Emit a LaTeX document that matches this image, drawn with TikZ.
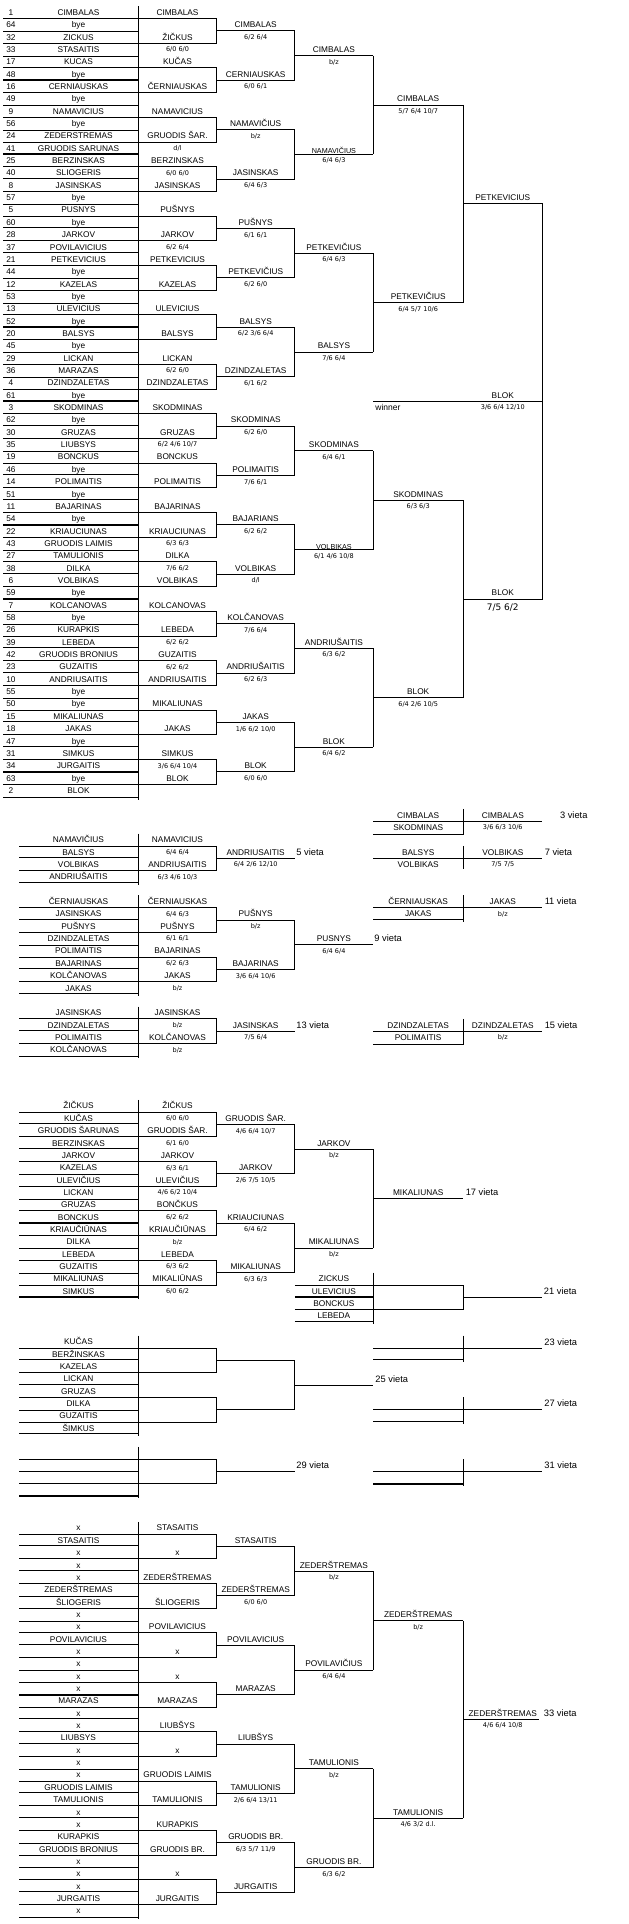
\documentclass[tikz,border=0pt]{standalone}
\usepackage{fontspec}
\setmainfont{Liberation Sans}
\newfontfamily\scorefont{DejaVu Sans}
\usetikzlibrary{positioning}

% column borders and column centres
\newcommand\Xz{3.2}
\newcommand\Xl{19.3}
\newcommand\Xa{138.4}
\newcommand\Xb{216.6}
\newcommand\Xc{294.8}
\newcommand\Xd{373}
\newcommand\Xe{463.3}
\newcommand\Xf{542.3}
\newcommand\Ma{78.5}
\newcommand\Mb{177.5}
\newcommand\Mc{255.7}
\newcommand\Md{333.9}
\newcommand\Me{418.2}
\newcommand\Mf{502.8}

\begin{document}
\begin{tikzpicture}[x=1pt,y=-12.35pt,line width=0.9pt,
  nm/.style={anchor=base,yshift=-3pt,inner sep=0pt,font=\fontsize{8.3}{9}\selectfont},
  nmsmall/.style={nm,yshift=-2.6pt,font=\fontsize{7.2}{8}\selectfont},
  sc/.style={anchor=base,yshift=-2.35pt,inner sep=0pt,font=\scorefont\fontsize{6.5}{7}\selectfont},
  scbig/.style={sc,yshift=-3.3pt,font=\scorefont\fontsize{9}{10}\selectfont},
  place/.style={anchor=base west,yshift=-3.3pt,inner sep=0pt,font=\fontsize{9.3}{10}\selectfont},
  dbl/.style={double,double distance=1pt,line width=0.5pt},
  thk/.style={line width=1.8pt}]
\useasboundingbox (0,0) rectangle (629,155.79);

%% main draw
\foreach \k in {1,3,...,63} \draw (\Xz,\k+.5) -- (\Xb,\k+.5);
\foreach \k in {2,4,8,10,14,16,18,20,22,24,28,30,34,36,38,40,44,46,50,52,54,56,58,60,64}
  \draw[dbl] (\Xz,\k+.5) -- (\Xa,\k+.5);
\foreach \k in {6,12,26,32,35,42,48,62} \draw[thk] (\Xz,\k+.5) -- (\Xa,\k+.5);
\draw (\Xa,.5) -- (\Xa,64.8);
\foreach \k in {1,5,...,61} \draw (\Xb,\k+.5) -- (\Xb,\k+2.5);
\foreach \k in {2,6,...,62} \draw (\Xb,\k+.5) -- (\Xc,\k+.5);
\foreach \k in {2,10,...,58} \draw (\Xc,\k+.5) -- (\Xc,\k+4.5);
\foreach \k in {4,12,...,60} \draw (\Xc,\k+.5) -- (\Xd,\k+.5);
\foreach \k in {4,20,36,52} \draw (\Xd,\k+.5) -- (\Xd,\k+8.5);
\foreach \k in {8,24,40,56} \draw (\Xd,\k+.5) -- (\Xe,\k+.5);
\foreach \k in {8,40} \draw (\Xe,\k+.5) -- (\Xe,\k+16.5);
\draw (\Xe,16.5) -- (\Xf,16.5) -- (\Xf,48.5) -- (\Xe,48.5);
\draw (\Xd,32.5) -- (\Xf,32.5);

\foreach \s/\n [count=\k] in {1/CIMBALAS,64/bye,32/ZICKUS,33/STASAITIS,17/KUCAS,48/bye,16/CERNIAUSKAS,49/bye,9/NAMAVICIUS,56/bye,24/ZEDERSTREMAS,41/GRUODIS SARUNAS,25/BERZINSKAS,40/SLIOGERIS,8/JASINSKAS,57/bye,5/PUSNYS,60/bye,28/JARKOV,37/POVILAVICIUS,21/PETKEVICIUS,44/bye,12/KAZELAS,53/bye,13/ULEVICIUS,52/bye,20/BALSYS,45/bye,29/LICKAN,36/MARAZAS,4/DZINDZALETAS,61/bye,3/SKODMINAS,62/bye,30/GRUZAS,35/LIUBSYS,19/BONCKUS,46/bye,14/POLIMAITIS,51/bye,11/BAJARINAS,54/bye,22/KRIAUCIUNAS,43/GRUODIS LAIMIS,27/TAMULIONIS,38/DILKA,6/VOLBIKAS,59/bye,7/KOLCANOVAS,58/bye,26/KURAPKIS,39/LEBEDA,42/GRUODIS BRONIUS,23/GUZAITIS,10/ANDRIUSAITIS,55/bye,50/bye,15/MIKALIUNAS,18/JAKAS,47/bye,31/SIMKUS,34/JURGAITIS,63/bye,2/BLOK} {
  \node[nm] (seed\k) at (11,\k) {\s};
  \node[nm] (r\k) at (\Ma,\k) {\n};
}
\foreach \k/\n in {1/CIMBALAS,3/ŽIČKUS,5/KUČAS,7/ČERNIAUSKAS,9/NAMAVICIUS,11/GRUODIS ŠAR.,13/BERZINSKAS,15/JASINSKAS,17/PUŠNYS,19/JARKOV,21/PETKEVICIUS,23/KAZELAS,25/ULEVICIUS,27/BALSYS,29/LICKAN,31/DZINDZALETAS,33/SKODMINAS,35/GRUZAS,37/BONCKUS,39/POLIMAITIS,41/BAJARINAS,43/KRIAUCIUNAS,45/DILKA,47/VOLBIKAS,49/KOLCANOVAS,51/LEBEDA,53/GUZAITIS,55/ANDRIUSAITIS,57/MIKALIUNAS,59/JAKAS,61/SIMKUS,63/BLOK}
  \node[nm] (rb\k) at (\Mb,\k) {\n};
\foreach \k/\t in {4/{6/0 6/0},12/{d/l},14/{6/0 6/0},20/{6/2 6/4},30/{6/2 6/0},36/{6/2 4/6 10/7},44/{6/3 6/3},46/{7/6 6/2},52/{6/2 6/2},54/{6/2 6/2},62/{3/6 6/4 10/4}}
  \node[sc] (sb\k) at (\Mb,\k) {\t};
\foreach \k/\n in {2/CIMBALAS,6/CERNIAUSKAS,10/NAMAVIČIUS,14/JASINSKAS,18/PUŠNYS,22/PETKEVIČIUS,26/BALSYS,30/DZINDZALETAS,34/SKODMINAS,38/POLIMAITIS,42/BAJARIANS,46/VOLBIKAS,50/KOLČANOVAS,54/ANDRIUŠAITIS,58/JAKAS,62/BLOK}
  \node[nm] (rc\k) at (\Mc,\k) {\n};
\foreach \k/\t in {3/{6/2 6/4},7/{6/0 6/1},11/{b/z},15/{6/4 6/3},19/{6/1 6/1},23/{6/2 6/0},27/{6/2 3/6 6/4},31/{6/1 6/2},35/{6/2 6/0},39/{7/6 6/1},43/{6/2 6/2},47/{d/l},51/{7/6 6/4},55/{6/2 6/3},59/{1/6 6/2 10/0},63/{6/0 6/0}}
  \node[sc] (sc\k) at (\Mc,\k) {\t};
\foreach \k/\n in {4/CIMBALAS,20/PETKEVIČIUS,28/BALSYS,36/SKODMINAS,52/ANDRIUŠAITIS,60/BLOK}
  \node[nm] (rd\k) at (\Md,\k) {\n};
\node[nmsmall] (rd12) at (\Md,12) {NAMAVIČIUS};
\node[nmsmall] (rd44) at (\Md,44) {VOLBIKAS};
\foreach \k/\t in {5/{b/z},13/{6/4 6/3},21/{6/4 6/3},29/{7/6 6/4},37/{6/4 6/1},45/{6/1 4/6 10/8},53/{6/3 6/2},61/{6/4 6/2}}
  \node[sc] (sd\k) at (\Md,\k) {\t};
\foreach \k/\n in {8/CIMBALAS,24/PETKEVIČIUS,40/SKODMINAS,56/BLOK}
  \node[nm] (re\k) at (\Me,\k) {\n};
\foreach \k/\t in {9/{5/7 6/4 10/7},25/{6/4 5/7 10/6},41/{6/3 6/3},57/{6/4 2/6 10/5}}
  \node[sc] (se\k) at (\Me,\k) {\t};
\node[nm] (rf16) at (\Mf,16) {PETKEVICIUS};
\node[nm] (rf48) at (\Mf,48) {BLOK};
\node[scbig] (sf49) at (\Mf,49) {7/5 6/2};
\node[nm] (champ) at (\Mf,32) {BLOK};
\node[sc] (final) at (\Mf,33) {3/6 6/4 12/10};
\node[place,font=\fontsize{8.5}{9}\selectfont] (winner) at (375,33) {winner};

%% 3 vieta
\draw (\Xd,66.5) -- (\Xf,66.5);
\draw[dbl] (\Xd,67.5) -- (\Xe,67.5);
\draw (\Xe,65.5) -- (\Xe,67.65);
\node[nm] (p3a) at (\Me,66) {CIMBALAS};
\node[nm] (p3b) at (\Me,67) {SKODMINAS};
\node[nm] (p3w) at (\Mf,66) {CIMBALAS};
\node[sc] (p3s) at (\Mf,67) {3/6 6/3 10/6};
\node[place] (v3) at (559.6,66) {3 vieta};

%% 7 vieta
\draw (\Xd,69.5) -- (\Xf,69.5);
\draw (\Xe,68.5) -- (\Xe,70.4);
\node[nm] (p7a) at (\Me,69) {BALSYS};
\node[nm] (p7b) at (\Me,70) {VOLBIKAS};
\node[nm] (p7w) at (\Mf,69) {VOLBIKAS};
\node[sc] (p7s) at (\Mf,70) {7/5 7/5};
\node[place] (v7) at (544.3,69) {7 vieta};

%% 5 vieta
\foreach \k in {68,70} \draw (\Xl,\k+.5) -- (\Xb,\k+.5);
\foreach \k in {69,71} \draw[dbl] (\Xl,\k+.5) -- (\Xa,\k+.5);
\draw (\Xa,67.5) -- (\Xa,71.65);
\draw (\Xb,68.5) -- (\Xb,70.5);
\draw (\Xb,69.5) -- (\Xc,69.5);
\foreach \n [count=\k from 68] in {NAMAVIČIUS,BALSYS,VOLBIKAS,ANDRIUŠAITIS}
  \node[nm] (p5\k) at (\Ma,\k) {\n};
\node[nm] (p5b68) at (\Mb,68) {NAMAVICIUS};
\node[sc] (p5s69) at (\Mb,69) {6/4 6/4};
\node[nm] (p5b70) at (\Mb,70) {ANDRIUSAITIS};
\node[sc] (p5s71) at (\Mb,71) {6/3 4/6 10/3};
\node[nm] (p5w) at (\Mc,69) {ANDRIUSAITIS};
\node[sc] (p5s) at (\Mc,70) {6/4 2/6 12/10};
\node[place] (v5) at (296,69) {5 vieta};

%% 9 vieta
\foreach \k in {73,75,77,79} \draw (\Xl,\k+.5) -- (\Xb,\k+.5);
\foreach \k in {74,76,78,80} \draw[dbl] (\Xl,\k+.5) -- (\Xa,\k+.5);
\draw (\Xa,72.5) -- (\Xa,80.65);
\foreach \k in {73,77} \draw (\Xb,\k+.5) -- (\Xb,\k+2.5);
\foreach \k in {74,78} \draw (\Xb,\k+.5) -- (\Xc,\k+.5);
\draw (\Xc,74.5) -- (\Xc,78.5);
\draw (\Xc,76.5) -- (\Xd,76.5);
\foreach \n [count=\k from 73] in {ČERNIAUSKAS,JASINSKAS,PUŠNYS,DZINDZALETAS,POLIMAITIS,BAJARINAS,KOLČANOVAS,JAKAS}
  \node[nm] (p9\k) at (\Ma,\k) {\n};
\foreach \k/\n in {73/ČERNIAUSKAS,75/PUŠNYS,77/BAJARINAS,79/JAKAS}
  \node[nm] (p9b\k) at (\Mb,\k) {\n};
\foreach \k/\t in {74/{6/4 6/3},76/{6/1 6/1},78/{6/2 6/3},80/{b/z}}
  \node[sc] (p9s\k) at (\Mb,\k) {\t};
\node[nm] (p9c74) at (\Mc,74) {PUŠNYS};
\node[sc] (p9t75) at (\Mc,75) {b/z};
\node[nm] (p9c78) at (\Mc,78) {BAJARINAS};
\node[sc] (p9t79) at (\Mc,79) {3/6 6/4 10/6};
\node[nm] (p9w) at (\Md,76) {PUSNYS};
\node[sc] (p9s) at (\Md,77) {6/4 6/4};
\node[place] (v9) at (374,76) {9 vieta};

%% 11 vieta
\draw (\Xd,73.5) -- (\Xf,73.5);
\draw[dbl] (\Xd,74.5) -- (\Xe,74.5);
\draw (\Xe,72.5) -- (\Xe,74.65);
\node[nm] (p11a) at (\Me,73) {ČERNIAUSKAS};
\node[nm] (p11b) at (\Me,74) {JAKAS};
\node[nm] (p11w) at (\Mf,73) {JAKAS};
\node[sc] (p11s) at (\Mf,74) {b/z};
\node[place] (v11) at (544.3,73) {11 vieta};

%% 13 vieta
\foreach \k in {82,84} \draw (\Xl,\k+.5) -- (\Xb,\k+.5);
\foreach \k in {83,85} \draw[dbl] (\Xl,\k+.5) -- (\Xa,\k+.5);
\draw (\Xa,81.5) -- (\Xa,85.65);
\draw (\Xb,82.5) -- (\Xb,84.5);
\draw (\Xb,83.5) -- (\Xc,83.5);
\foreach \n [count=\k from 82] in {JASINSKAS,DZINDZALETAS,POLIMAITIS,KOLČANOVAS}
  \node[nm] (p13\k) at (\Ma,\k) {\n};
\node[nm] (p13b82) at (\Mb,82) {JASINSKAS};
\node[sc] (p13s83) at (\Mb,83) {b/z};
\node[nm] (p13b84) at (\Mb,84) {KOLČANOVAS};
\node[sc] (p13s85) at (\Mb,85) {b/z};
\node[nm] (p13w) at (\Mc,83) {JASINSKAS};
\node[sc] (p13s) at (\Mc,84) {7/5 6/4};
\node[place] (v13) at (296,83) {13 vieta};

%% 15 vieta
\draw (\Xd,83.5) -- (\Xf,83.5);
\draw[dbl] (\Xd,84.5) -- (\Xe,84.5);
\draw (\Xe,82.5) -- (\Xe,84.65);
\node[nm] (p15a) at (\Me,83) {DZINDZALETAS};
\node[nm] (p15b) at (\Me,84) {POLIMAITIS};
\node[nm] (p15w) at (\Mf,83) {DZINDZALETAS};
\node[sc] (p15s) at (\Mf,84) {b/z};
\node[place] (v15) at (544.3,83) {15 vieta};

%% 17 vieta
\foreach \i in {0,2,...,14} \draw (\Xl,89.55+\i+.5) -- (\Xb,89.55+\i+.5);
\foreach \i in {1,3,5,7,11,13} \draw[dbl] (\Xl,89.55+\i+.5) -- (\Xa,89.55+\i+.5);
\foreach \i in {9,15} \draw[thk] (\Xl,89.55+\i+.5) -- (\Xa,89.55+\i+.5);
\draw (\Xa,89.05) -- (\Xa,105.2);
\foreach \i in {0,4,8,12} \draw (\Xb,90.05+\i) -- (\Xb,92.05+\i);
\foreach \i in {1,5,9,13} \draw (\Xb,90.05+\i) -- (\Xc,90.05+\i);
\foreach \i in {1,9} \draw (\Xc,90.05+\i) -- (\Xc,94.05+\i);
\foreach \i in {3,11} \draw (\Xc,90.05+\i) -- (\Xd,90.05+\i);
\draw (\Xd,93.05) -- (\Xd,101.05);
\draw (\Xd,97.05) -- (\Xe,97.05);
\foreach \n [count=\i from 0] in {ŽIČKUS,KUČAS,GRUODIS ŠARUNAS,BERZINSKAS,JARKOV,KAZELAS,ULEVIČIUS,LICKAN,GRUZAS,BONCKUS,KRIAUČIŪNAS,DILKA,LEBEDA,GUZAITIS,MIKALIUNAS,SIMKUS}
  \node[nm] (q\i) at (\Ma,89.55+\i) {\n};
\foreach \i/\n in {0/ŽIČKUS,2/GRUODIS ŠAR.,4/JARKOV,6/ULEVIČIUS,8/BONČKUS,10/KRIAUČIŪNAS,12/LEBEDA,14/MIKALIŪNAS}
  \node[nm] (qb\i) at (\Mb,89.55+\i) {\n};
\foreach \i/\t in {1/{6/0 6/0},3/{6/1 6/0},5/{6/3 6/1},7/{4/6 6/2 10/4},9/{6/2 6/2},11/{b/z},13/{6/3 6/2},15/{6/0 6/2}}
  \node[sc] (qs\i) at (\Mb,89.55+\i) {\t};
\foreach \i/\n in {1/GRUODIS ŠAR.,5/JARKOV,9/KRIAUCIUNAS,13/MIKALIUNAS}
  \node[nm] (qc\i) at (\Mc,89.55+\i) {\n};
\foreach \i/\t in {2/{4/6 6/4 10/7},6/{2/6 7/5 10/5},10/{6/4 6/2},14/{6/3 6/3}}
  \node[sc] (qt\i) at (\Mc,89.55+\i) {\t};
\node[nm] (qd3) at (\Md,92.55) {JARKOV};
\node[sc] (qu4) at (\Md,93.55) {b/z};
\node[nm] (qd11) at (\Md,100.55) {MIKALIUNAS};
\node[sc] (qu12) at (\Md,101.55) {b/z};
\node[nm] (qw) at (\Me,96.55) {MIKALIUNAS};
\node[place] (v17) at (465.3,96.55) {17 vieta};

%% 21 vieta
\draw (\Xc,104.05) -- (\Xe,104.05);
\draw[thk] (\Xc,105.05) -- (\Xd,105.05);
\draw (\Xc,106.05) -- (\Xe,106.05);
\draw[dbl] (\Xc,107.05) -- (\Xd,107.05);
\draw (\Xd,103.05) -- (\Xd,107.2);
\draw (\Xe,104.05) -- (\Xe,106.05);
\draw (\Xe,105.05) -- (\Xf,105.05);
\foreach \n [count=\i from 0] in {ZICKUS,ULEVICIUS,BONCKUS,LEBEDA}
  \node[nm] (h\i) at (\Md,103.55+\i) {\n};
\node[place] (v21) at (543.5,104.55) {21 vieta};

%% 23, 25, 27 vieta
\foreach \i in {0,2,4,6} \draw (\Xl,109.15+\i) -- (\Xb,109.15+\i);
\foreach \i in {1,3,5,7} \draw[dbl] (\Xl,109.15+\i) -- (\Xa,109.15+\i);
\draw (\Xa,108.15) -- (\Xa,116.3);
\foreach \i in {0,4} \draw (\Xb,109.15+\i) -- (\Xb,111.15+\i);
\foreach \i in {1,5} \draw (\Xb,109.15+\i) -- (\Xc,109.15+\i);
\draw (\Xc,110.15) -- (\Xc,114.15);
\draw (\Xc,112.15) -- (\Xd,112.15);
\foreach \n [count=\i from 0] in {KUČAS,BERŽINSKAS,KAZELAS,LICKAN,GRUZAS,DILKA,GUZAITIS,ŠIMKUS}
  \node[nm] (g\i) at (\Ma,108.65+\i) {\n};
\node[place] (v25) at (375,111.65) {25 vieta};
\draw (\Xd,109.15) -- (\Xf,109.15);
\draw[dbl] (\Xd,110.15) -- (\Xe,110.15);
\draw (\Xe,108.15) -- (\Xe,110.3);
\node[place] (v23) at (544,108.65) {23 vieta};
\draw (\Xd,114.15) -- (\Xf,114.15);
\draw[dbl] (\Xd,115.15) -- (\Xe,115.15);
\draw (\Xe,113.15) -- (\Xe,115.3);
\node[place] (v27) at (544,113.65) {27 vieta};

%% 29, 31 vieta
\foreach \i in {0,2} \draw (\Xl,118.15+\i) -- (\Xb,118.15+\i);
\foreach \i in {1,3} \draw[thk] (\Xl,118.15+\i) -- (\Xa,118.15+\i);
\draw (\Xa,117.15) -- (\Xa,121.3);
\draw (\Xb,118.15) -- (\Xb,120.15);
\draw (\Xb,119.15) -- (\Xc,119.15);
\node[place] (v29) at (296,118.65) {29 vieta};
\draw (\Xd,119.15) -- (\Xf,119.15);
\draw[thk] (\Xd,120.15) -- (\Xe,120.15);
\draw (\Xe,118.15) -- (\Xe,120.3);
\node[place] (v31) at (544,118.65) {31 vieta};

%% 33 vieta
\foreach \i in {0,2,...,30} \draw (\Xl,124.22+\i) -- (\Xb,124.22+\i);
\foreach \i in {1,3,5,7,9,11,15,17,19,21,23,25,29,31} \draw[dbl] (\Xl,124.22+\i) -- (\Xa,124.22+\i);
\foreach \i in {13,27} \draw[thk] (\Xl,124.22+\i) -- (\Xa,124.22+\i);
\draw (\Xa,123.22) -- (\Xa,155.37);
\foreach \i in {0,4,...,28} \draw (\Xb,124.22+\i) -- (\Xb,126.22+\i);
\foreach \i in {1,5,...,29} \draw (\Xb,124.22+\i) -- (\Xc,124.22+\i);
\foreach \i in {1,9,17,25} \draw (\Xc,124.22+\i) -- (\Xc,128.22+\i);
\foreach \i in {3,11,19,27} \draw (\Xc,124.22+\i) -- (\Xd,124.22+\i);
\foreach \i in {3,19} \draw (\Xd,124.22+\i) -- (\Xd,132.22+\i);
\foreach \i in {7,23} \draw (\Xd,124.22+\i) -- (\Xe,124.22+\i);
\draw (\Xe,131.22) -- (\Xe,147.22);
\draw (\Xe,139.22) -- (539,139.22);
\foreach \n [count=\i from 0] in {x,STASAITIS,x,x,x,ZEDERŠTREMAS,ŠLIOGERIS,x,x,POVILAVICIUS,x,x,x,x,MARAZAS,x,x,LIUBSYS,x,x,x,GRUODIS LAIMIS,TAMULIONIS,x,x,KURAPKIS,GRUODIS BRONIUS,x,x,x,JURGAITIS,x}
  \node[nm] (z\i) at (\Ma,123.72+\i) {\n};
\foreach \i/\n in {0/STASAITIS,2/x,4/ZEDERŠTREMAS,6/ŠLIOGERIS,8/POVILAVICIUS,10/x,12/x,14/MARAZAS,16/LIUBŠYS,18/x,20/GRUODIS LAIMIS,22/TAMULIONIS,24/KURAPKIS,26/GRUODIS BR.,28/x,30/JURGAITIS}
  \node[nm] (zb\i) at (\Mb,123.72+\i) {\n};
\foreach \i/\n in {1/STASAITIS,5/ZEDERŠTREMAS,9/POVILAVICIUS,13/MARAZAS,17/LIUBŠYS,21/TAMULIONIS,25/GRUODIS BR.,29/JURGAITIS}
  \node[nm] (zc\i) at (\Mc,123.72+\i) {\n};
\foreach \i/\t in {6/{6/0 6/0},22/{2/6 6/4 13/11},26/{6/3 5/7 11/9}}
  \node[sc] (zs\i) at (\Mc,123.72+\i) {\t};
\foreach \i/\n in {3/ZEDERŠTREMAS,11/POVILAVIČIUS,19/TAMULIONIS,27/GRUODIS BR.}
  \node[nm] (zd\i) at (\Md,123.72+\i) {\n};
\foreach \i/\t in {4/{b/z},12/{6/4 6/4},20/{b/z},28/{6/3 6/2}}
  \node[sc] (zt\i) at (\Md,123.72+\i) {\t};
\node[nm] (ze7) at (\Me,130.72) {ZEDERŠTREMAS};
\node[sc] (zu8) at (\Me,131.72) {b/z};
\node[nm] (ze23) at (\Me,146.72) {TAMULIONIS};
\node[sc] (zu24) at (\Me,147.72) {4/6 3/2 d.l.};
\node[nm] (zw) at (\Mf,138.72) {ZEDERŠTREMAS};
\node[sc] (zws) at (\Mf,139.72) {4/6 6/4 10/8};
\node[place] (v33) at (543.5,138.72) {33 vieta};
\end{tikzpicture}
\end{document}
